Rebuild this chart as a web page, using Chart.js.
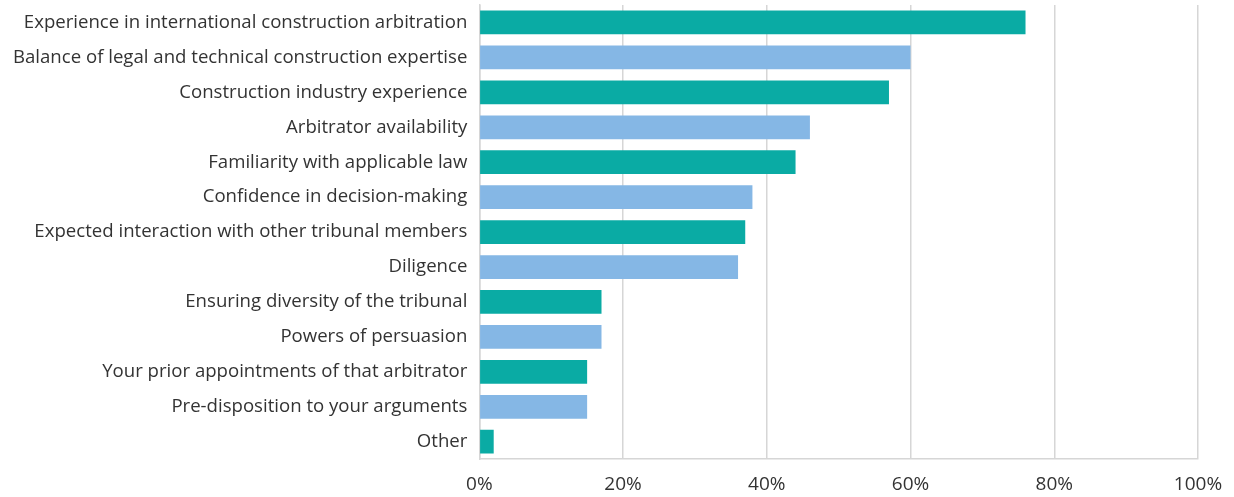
<!DOCTYPE html>
<html>
<head>
<meta charset="utf-8">
<script src="https://cdn.jsdelivr.net/npm/chart.js@4"></script>
<style>
  html, body { margin: 0; padding: 0; background: #fff; }
  #wrap { width: 1234px; height: 497px; }
</style>
</head>
<body>
<div id="wrap"><canvas id="myChart"></canvas></div>
<script>
var categories = [
  "Experience in international construction arbitration",
  "Balance of legal and technical construction expertise",
  "Construction industry experience",
  "Arbitrator availability",
  "Familiarity with applicable law",
  "Confidence in decision-making",
  "Expected interaction with other tribunal members",
  "Diligence",
  "Ensuring diversity of the tribunal",
  "Powers of persuasion",
  "Your prior appointments of that arbitrator",
  "Pre-disposition to your arguments",
  "Other"
];
var percentages = [76, 60, 57, 46, 44, 38, 37, 36, 17, 17, 15, 15, 2];
var tickValues = [0, 20, 40, 60, 80, 100];

var teal = "#0aaba4";
var blue = "#85b7e5";
var barColors = categories.map(function (c, i) { return i % 2 === 0 ? teal : blue; });

Chart.defaults.font.family = "'Open Sans', sans-serif";
Chart.defaults.color = "#333";

var ctx = document.getElementById("myChart").getContext("2d");
var chart = new Chart(ctx, {
  type: "bar",
  data: {
    labels: categories,
    datasets: [
      {
        data: percentages,
        backgroundColor: barColors,
        borderWidth: 0,
        barPercentage: 0.68,
        categoryPercentage: 1
      }
    ]
  },
  options: {
    indexAxis: "y",
    responsive: true,
    maintainAspectRatio: false,
    animation: false,
    layout: { padding: { top: 5, right: 36, bottom: 1, left: 13 } },
    plugins: {
      legend: { display: false },
      tooltip: { enabled: false }
    },
    scales: {
      x: {
        min: 0,
        max: 100,
        afterBuildTicks: function (axis) {
          axis.ticks = tickValues.map(function (v) { return { value: v }; });
        },
        afterFit: function (axis) {
          // tick padding is counted twice by chart.js, drop one
          axis.height -= 14;
          axis.paddingLeft = 0;
          axis.paddingRight = 0;
        },
        ticks: {
          callback: function (v) { return v + "%"; },
          font: { size: 19 },
          color: "#333",
          padding: 14
        },
        grid: { color: "#d6d6d6", lineWidth: 1.5, drawTicks: false },
        border: { color: "#d6d6d6", width: 1.5 }
      },
      y: {
        afterFit: function (axis) {
          axis.width -= 12;
          axis.paddingTop = 0;
          axis.paddingBottom = 0;
        },
        ticks: {
          font: { size: 18.6 },
          color: "#333",
          padding: 12,
          autoSkip: false
        },
        grid: { display: false, drawTicks: false },
        border: { color: "#d6d6d6", width: 1.5 }
      }
    }
  }
});
</script>
</body>
</html>
